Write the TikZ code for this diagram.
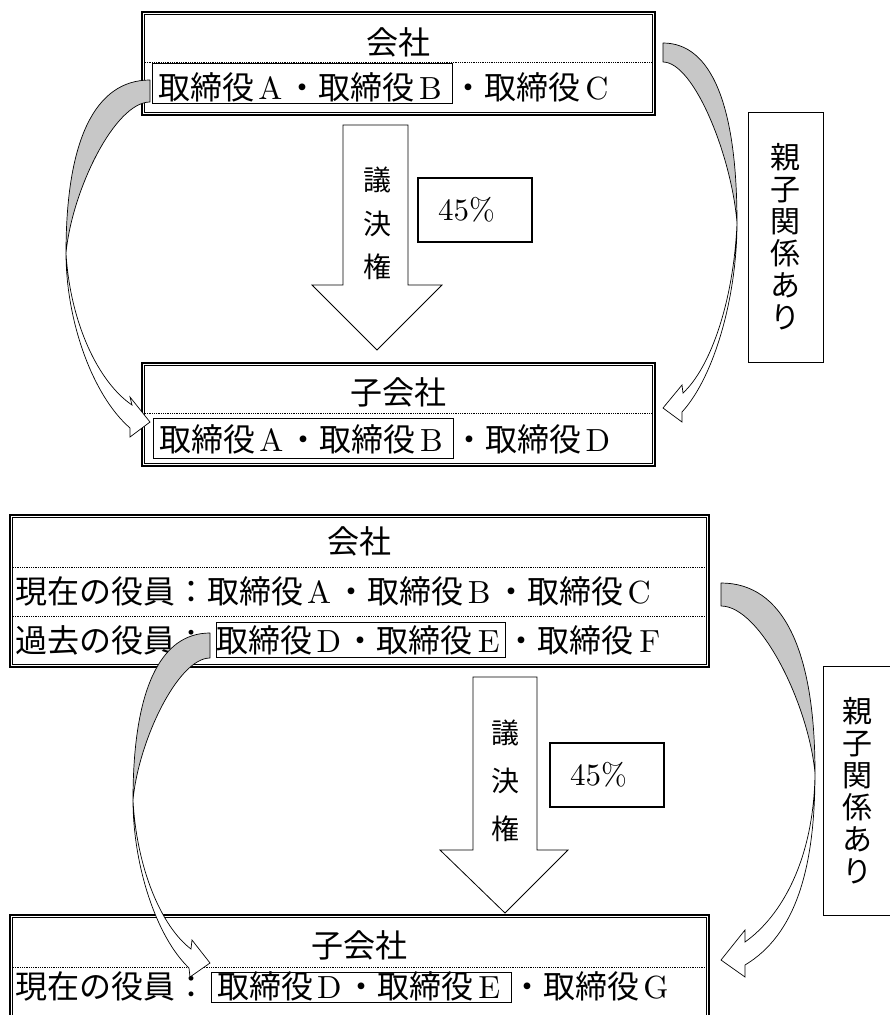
\documentclass[tikz,border=0pt]{standalone}
\usepackage{fontspec}
\newfontfamily\jp{Noto Sans CJK JP}
\newfontfamily\lat{lmroman10-regular.otf}
\newcommand\LL[1]{\makebox[1em]{\lat #1}}
\tikzset{
  dbox/.style={draw, line width=1.1pt, inner sep=0pt, outer sep=0pt, anchor=north west},
  dinner/.style={line width=0.6pt},
  sepline/.style={line width=0.9pt, dash pattern=on 0.9pt off 0.9pt},
  rowtxt/.style={inner sep=0pt, anchor=base west, font=\jp\fontsize{32}{36}\selectfont},
  titletxt/.style={inner sep=0pt, anchor=base, font=\jp\fontsize{32}{36}\selectfont},
  ibox/.style={draw, line width=0.7pt, inner ysep=0pt, anchor=base west, font=\jp\fontsize{32}{36}\selectfont},
  blockarrow/.style={draw, line width=0.8pt, fill=white, line join=miter},
  pctbox/.style={draw, line width=1.1pt, minimum height=64pt, text width=74pt, inner xsep=20pt, align=left, font=\lat\fontsize{31}{36}\selectfont},
  relbox/.style={draw, line width=1pt, inner sep=0pt, align=center, font=\jp\fontsize{30}{32}\selectfont},
  votetxt/.style={inner sep=0pt, align=center},
  crvgray/.style={draw, line width=0.7pt, fill=black!22, line join=round},
  crvwhite/.style={draw, line width=0.7pt, fill=white, line join=miter},
}
\begin{document}
\begin{tikzpicture}[x=1pt,y=-1pt]
\useasboundingbox (0,0) rectangle (890,1015);
\clip (0,0) rectangle (890,1015);

% ===== top diagram =====
\node[dbox, minimum width=513pt, minimum height=103pt] (b1) at (142,12) {};
\draw[dinner] ([shift={(2.5pt,-2.5pt)}]b1.north west) rectangle ([shift={(-2.5pt,2.5pt)}]b1.south east);
\draw[sepline] (145,62) -- (652,62);
\node[titletxt] (t1) at (398.5,54) {会社};
\node[ibox, inner xsep=6pt, text height=36.5pt, text depth=3.5pt] (ib1) at (152,99.5) {取締役\LL{A}・取締役\LL{B}};
\node[rowtxt] (r1) at (ib1.base east) {・取締役\LL{C}};

\node[dbox, minimum width=513pt, minimum height=103pt] (b2) at (142,363) {};
\draw[dinner] ([shift={(2.5pt,-2.5pt)}]b2.north west) rectangle ([shift={(-2.5pt,2.5pt)}]b2.south east);
\draw[sepline] (145,413) -- (652,413);
\node[titletxt] (t2) at (398.5,404) {子会社};
\node[ibox, inner xsep=6pt, text height=33pt, text depth=7pt] (ib2) at (153,451) {取締役\LL{A}・取締役\LL{B}};
\node[rowtxt] (r2) at (ib2.base east) {・取締役\LL{D}};

\draw[blockarrow] (343,125) -- (408,125) -- (408,285) -- (442,285) -- (377,350) -- (312,285) -- (343,285) -- cycle;
\node[votetxt, font=\jp\fontsize{28}{43.5}\selectfont] (v1) at (377,223.5) {議\\決\\権};
\node[pctbox] (p1) at (475,210) {45\%};
\node[relbox, minimum width=75pt, minimum height=250pt] (q1) at (785.5,237) {親\\子\\関\\係\\あ\\り};

\draw[crvgray] (150,80) .. controls (95,80) and (66,140) .. (66,253) .. controls (72,190) and (115,102) .. (150,102) -- cycle;
\draw[crvwhite] (66,253) .. controls (66,320) and (92,395) .. (130,428) -- (130,437) -- (150,422) -- (130,397) -- (132,405) .. controls (98,382) and (70,322) .. (66,253) -- cycle;

\draw[crvgray] (663,43) .. controls (711.5,43) and (737,105.5) .. (737,223) .. controls (731.7,156) and (693.9,62) .. (663,62) -- cycle;
\draw[crvwhite] (737,223) .. controls (737,295.4) and (714.7,376.3) .. (682,412) -- (682,422) -- (663,408) -- (682,385) -- (683,393) .. controls (710.8,367.3) and (733.8,300.2) .. (737,223) -- cycle;

% ===== bottom diagram =====
\node[dbox, minimum width=699pt, minimum height=152pt] (b3) at (10,515) {};
\draw[dinner] ([shift={(2.5pt,-2.5pt)}]b3.north west) rectangle ([shift={(-2.5pt,2.5pt)}]b3.south east);
\draw[sepline] (13,567) -- (706,567);
\draw[sepline] (13,616) -- (706,616);
\node[titletxt] (t3) at (359.5,553) {会社};
\node[rowtxt] (r3a) at (15,603) {現在の役員：取締役\LL{A}・取締役\LL{B}・取締役\LL{C}};
\node[rowtxt] (r3b) at (15,652) {過去の役員：};
\node[ibox, inner xsep=0.5pt, text height=30pt, text depth=5pt] (ib3) at (216,652) {取締役\LL{D}・取締役\LL{E}};
\node[rowtxt] (r3c) at (ib3.base east) {・取締役\LL{F}};

\node[dbox, minimum width=699pt, minimum height=110pt] (b4) at (10,915) {};
\draw[dinner] ([shift={(2.5pt,-2.5pt)}]b4.north west) rectangle ([shift={(-2.5pt,2.5pt)}]b4.south east);
\draw[sepline] (13,967) -- (706,967);
\node[titletxt] (t4) at (359.5,957) {子会社};
\node[rowtxt] (r4a) at (15,998) {現在の役員：};
\node[ibox, inner xsep=6pt, text height=26pt, text depth=4pt] (ib4) at (211,998) {取締役\LL{D}・取締役\LL{E}};
\node[rowtxt] (r4c) at (ib4.base east) {・取締役\LL{G}};

\draw[blockarrow] (473,677) -- (537,677) -- (537,850) -- (568,850) -- (505,913) -- (440,850) -- (473,850) -- cycle;
\node[votetxt, font=\jp\fontsize{28}{48}\selectfont] (v2) at (505,781) {議\\決\\権};
\node[pctbox] (p2) at (607,775) {45\%};
\node[relbox, minimum width=68pt, minimum height=249pt] (q2) at (857,790.5) {親\\子\\関\\係\\あ\\り};

\draw[crvgray] (210,633) .. controls (159.6,633) and (133,691) .. (133,800) .. controls (138.5,740.8) and (177.9,658) .. (210,658) -- cycle;
\draw[crvwhite] (133,800) .. controls (133,864.3) and (155.7,936.2) .. (189,968) -- (190,977) -- (210,963) -- (192,940) -- (191,949) .. controls (161.1,926.5) and (136.5,867.6) .. (133,800) -- cycle;

\draw[crvgray] (721,583) .. controls (782.6,583) and (815,648.9) .. (815,773) .. controls (808.3,703.4) and (760.2,606) .. (721,606) -- cycle;
\draw[crvwhite] (815,773) .. controls (815,870) and (795,935) .. (745,965) -- (745,977) -- (721,960) -- (745,930) -- (745,942) .. controls (781,916.5) and (814,860) .. (815,773) -- cycle;
\end{tikzpicture}
\end{document}
